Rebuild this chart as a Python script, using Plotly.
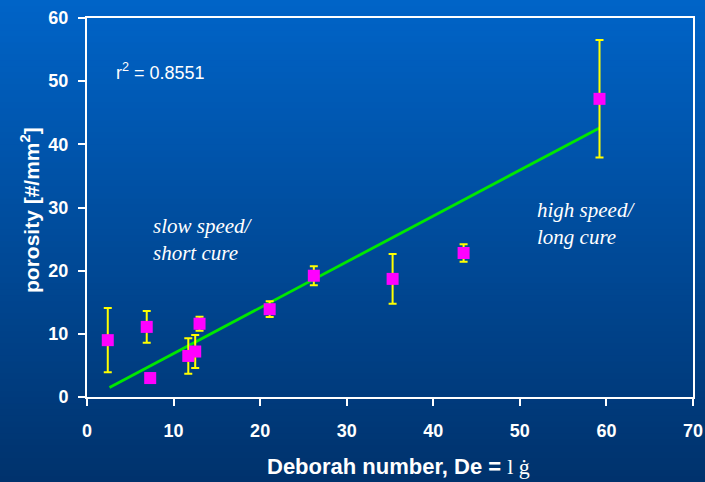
import plotly.graph_objects as go

# ---- data ----
de = [2.4, 6.9, 7.3, 11.7, 12.5, 13.0, 21.1, 26.2, 35.3, 43.5, 59.2]
porosity = [9.0, 11.1, 3.0, 6.5, 7.2, 11.6, 13.9, 19.2, 18.7, 22.8, 47.2]
err = [5.1, 2.5, 0.7, 2.8, 2.6, 1.1, 1.25, 1.5, 3.95, 1.4, 9.3]
trend_x = [2.6, 59.2]
trend_y = [1.5, 42.6]
x_ticks = [0, 10, 20, 30, 40, 50, 60, 70]
y_ticks = [0, 10, 20, 30, 40, 50, 60]

W, H = 705, 482
ML, MR, MT, MB = 87, 12, 18, 85
pw, ph = W - ML - MR, H - MT - MB

fig = go.Figure()

fig.add_trace(go.Scatter(
    x=trend_x, y=trend_y, mode="lines",
    line=dict(color="#00E800", width=2.8), hoverinfo="skip", showlegend=False))

fig.add_trace(go.Scatter(
    x=de, y=porosity, mode="markers",
    marker=dict(symbol="square", size=12, color="#FF00FF"),
    error_y=dict(type="data", array=err, visible=True, color="#FFFF00",
                 thickness=2, width=4),
    showlegend=False))

# gradient background via stripes
shapes = []
N = 80
top = (0, 100, 200)
bot = (0, 50, 108)
for i in range(N):
    p0 = i * H / N
    p1 = (i + 1) * H / N + 1
    t = (i + 0.5) / N
    c = tuple(round(top[k] + (bot[k] - top[k]) * t) for k in range(3))
    y0 = 1 - (p0 - MT) / ph
    y1 = 1 - (p1 - MT) / ph
    shapes.append(dict(type="rect", xref="paper", yref="paper",
                       x0=-0.3, x1=1.3, y0=y1, y1=y0, layer="below",
                       line=dict(width=0), fillcolor="rgb(%d,%d,%d)" % c))

ARIAL = "Arial, Liberation Sans"
font_tick = dict(family=ARIAL, size=18, color="white")

def px_x(p):
    return (p - ML) / pw

def px_y(p):
    return 1 - (p - MT) / ph

fig.update_layout(
    width=W, height=H,
    margin=dict(l=ML, r=MR, t=MT, b=MB),
    paper_bgcolor="rgb(0,75,150)",
    plot_bgcolor="rgba(0,0,0,0)",
    shapes=shapes,
    xaxis=dict(range=[0, 70], tickvals=x_ticks, ticktext=["<b>%d</b>" % v for v in x_ticks],
               showgrid=False, zeroline=False, showline=True, linecolor="white",
               linewidth=2, mirror=True, ticks="outside", ticklen=7, tickwidth=2,
               tickcolor="white", tickfont=font_tick, ticklabelstandoff=9,
               automargin=False),
    yaxis=dict(range=[0, 60], tickvals=y_ticks, ticktext=["<b>%d</b>" % v for v in y_ticks],
               showgrid=False, zeroline=False, showline=True, linecolor="white",
               linewidth=2, mirror=True, ticks="outside", ticklen=7, tickwidth=2,
               tickcolor="white", tickfont=font_tick, ticklabelstandoff=6,
               automargin=False),
    annotations=[
        dict(x=px_x(398), y=px_y(466), xref="paper", yref="paper",
             text="<b>Deborah number, De = </b><span style='font-family:Liberation Serif'>l ġ</span>",
             showarrow=False, xanchor="center", yanchor="middle",
             font=dict(family=ARIAL, size=22, color="white")),
        dict(x=px_x(30), y=px_y(210), xref="paper", yref="paper",
             text="<b>porosity [#/mm<sup>2</sup>]</b>", textangle=-90,
             showarrow=False, xanchor="center", yanchor="middle",
             font=dict(family=ARIAL, size=21, color="white")),
        dict(x=3.1, y=51.5, xref="x", yref="y", text="r<sup>2</sup> = 0.8551", showarrow=False,
             xanchor="left", yanchor="middle",
             font=dict(family=ARIAL, size=18, color="white")),
        dict(x=7.4, y=25.0, xref="x", yref="y", text="<i>slow speed/<br>short cure</i>",
             showarrow=False, xanchor="left", yanchor="middle", align="left",
             font=dict(family="Liberation Serif, Times New Roman", size=21, color="white")),
        dict(x=51.8, y=27.5, xref="x", yref="y", text="<i>high speed/<br>long cure</i>",
             showarrow=False, xanchor="left", yanchor="middle", align="left",
             font=dict(family="Liberation Serif, Times New Roman", size=21, color="white")),
    ],
)

fig.write_html("out.html")
